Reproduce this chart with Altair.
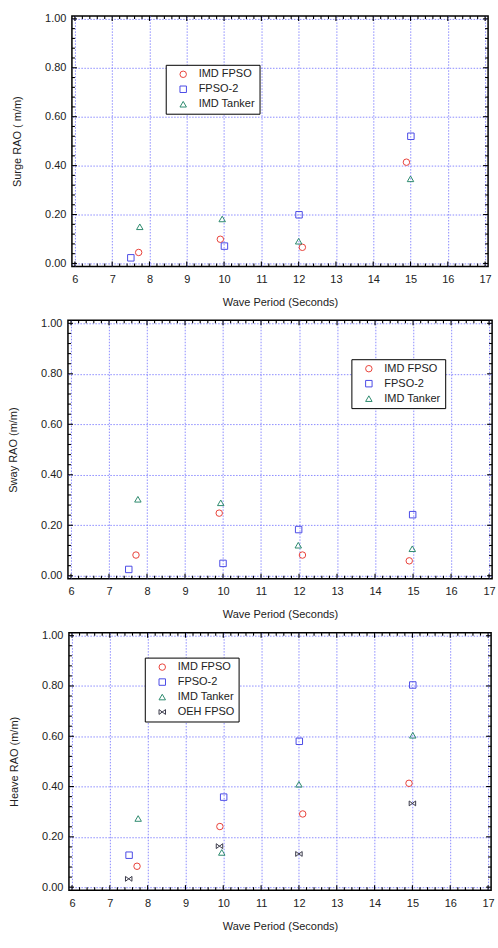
import altair as alt
import pandas as pd
import numpy as np

# ---------------- data ----------------
series_names = ["IMD FPSO", "FPSO-2", "IMD Tanker", "OEH FPSO"]
series_colors = ["#e8423a", "#4b4be6", "#2e8b6e", "#3a3a4a"]
series_shapes = ["circle", "square", "triangle-up", "M-1,-0.75L-1,0.75L1,-0.75L1,0.75Z"]

# Surge RAO
surge_imd_fpso_x = [7.71, 9.90, 12.10, 14.89]
surge_imd_fpso_y = [0.045, 0.099, 0.066, 0.414]
surge_fpso2_x = [7.50, 10.01, 12.01, 15.01]
surge_fpso2_y = [0.023, 0.071, 0.199, 0.520]
surge_tanker_x = [7.74, 9.95, 12.00, 15.00]
surge_tanker_y = [0.150, 0.182, 0.091, 0.346]

# Sway RAO
sway_imd_fpso_x = [7.71, 9.90, 12.09, 14.90]
sway_imd_fpso_y = [0.082, 0.248, 0.082, 0.059]
sway_fpso2_x = [7.52, 10.00, 11.99, 14.99]
sway_fpso2_y = [0.025, 0.049, 0.183, 0.242]
sway_tanker_x = [7.76, 9.94, 11.98, 14.98]
sway_tanker_y = [0.303, 0.289, 0.121, 0.107]

# Heave RAO
heave_imd_fpso_x = [7.72, 9.91, 12.10, 14.91]
heave_imd_fpso_y = [0.083, 0.241, 0.291, 0.413]
heave_fpso2_x = [7.51, 10.01, 12.01, 15.01]
heave_fpso2_y = [0.127, 0.358, 0.580, 0.804]
heave_tanker_x = [7.75, 9.96, 12.00, 15.01]
heave_tanker_y = [0.273, 0.138, 0.409, 0.604]
heave_oeh_x = [7.50, 9.90, 12.00, 15.00]
heave_oeh_y = [0.033, 0.163, 0.132, 0.333]

x_major = list(range(6, 18))
y_major = [0.0, 0.2, 0.4, 0.6, 0.8, 1.0]
x_minor = [round(6 + 0.2 * i, 2) for i in range(56) if i % 5 != 0]
y_minor = [round(0.04 * i, 2) for i in range(26) if i % 5 != 0]


def frame(pairs):
    rows = []
    for name, xs, ys in pairs:
        for a, b in zip(xs, ys):
            rows.append({"series": name, "x": a, "y": b})
    return pd.DataFrame(rows)


def panel(df, names, ytitle, width, height, lx, ly, ytitle_pad):
    cols = [series_colors[series_names.index(n)] for n in names]
    shps = [series_shapes[series_names.index(n)] for n in names]
    xs = alt.Scale(domain=[5.92, 17.08], nice=False, zero=False)
    ys = alt.Scale(domain=[-0.012, 1.012], nice=False, zero=False)
    leg = dict(orient="none", legendX=lx, legendY=ly, title=None,
               strokeColor="black", fillColor="white", padding=4,
               symbolOffset=8, labelOffset=10, rowPadding=3,
               labelFontSize=11, symbolSize=42, symbolStrokeWidth=1,
               labelFont="Liberation Sans", labelColor="#222")
    pts = alt.Chart(df).mark_point(filled=False, size=42, strokeWidth=1, opacity=1).encode(
        x=alt.X("x:Q", scale=xs, title="Wave Period (Seconds)",
                axis=alt.Axis(orient="bottom", values=x_major, format="d", grid=True,
                              ticks=False, tickSize=0, domain=False, labelPadding=7,
                              titlePadding=12, labelFlush=False)),
        y=alt.Y("y:Q", scale=ys, title=ytitle,
                axis=alt.Axis(orient="left", values=y_major, format=".2f", grid=True,
                              ticks=False, tickSize=0, domain=False, labelPadding=6,
                              titlePadding=ytitle_pad, labelFlush=False)),
        color=alt.Color("series:N", scale=alt.Scale(domain=names, range=cols),
                        legend=alt.Legend(**leg)),
        shape=alt.Shape("series:N", scale=alt.Scale(domain=names, range=shps),
                        legend=alt.Legend(**leg)),
    )

    def xticks(vals, y0, y1):
        return alt.Chart(pd.DataFrame({"x": vals})).mark_rule(
            color="black", strokeWidth=1.1).encode(
            x=alt.X("x:Q", scale=xs, axis=None),
            y=alt.value(y0), y2=alt.value(y1))

    def yticks(vals, x0, x1):
        return alt.Chart(pd.DataFrame({"y": vals})).mark_rule(
            color="black", strokeWidth=1.1).encode(
            y=alt.Y("y:Q", scale=ys, axis=None),
            x=alt.value(x0), x2=alt.value(x1))

    layers = [
        pts,
        xticks(x_major, height, height - 5),
        xticks(x_minor, height, height - 3),
        xticks(x_major, 0, 5),
        xticks(x_minor, 0, 3),
        yticks(y_major, 0, 5),
        yticks(y_minor, 0, 3),
        yticks(y_major, width, width - 5),
        yticks(y_minor, width, width - 3),
    ]
    return alt.layer(*layers).properties(width=width, height=height).resolve_axis(
        x="independent", y="independent")


surge_df = frame([("IMD FPSO", surge_imd_fpso_x, surge_imd_fpso_y),
                  ("FPSO-2", surge_fpso2_x, surge_fpso2_y),
                  ("IMD Tanker", surge_tanker_x, surge_tanker_y)])
sway_df = frame([("IMD FPSO", sway_imd_fpso_x, sway_imd_fpso_y),
                 ("FPSO-2", sway_fpso2_x, sway_fpso2_y),
                 ("IMD Tanker", sway_tanker_x, sway_tanker_y)])
heave_df = frame([("IMD FPSO", heave_imd_fpso_x, heave_imd_fpso_y),
                  ("FPSO-2", heave_fpso2_x, heave_fpso2_y),
                  ("IMD Tanker", heave_tanker_x, heave_tanker_y),
                  ("OEH FPSO", heave_oeh_x, heave_oeh_y)])

p1 = panel(surge_df, series_names[:3], "Surge RAO ( m/m)", 417, 251, 94, 49, 22)
p2 = panel(sway_df, series_names[:3], "Sway RAO (m/m)", 425, 259, 284, 39, 22)
p3 = panel(heave_df, series_names, "Heave RAO (m/m)", 423, 258, 76, 25, 22)

chart = alt.vconcat(p1, p2, p3, spacing=8, center=True).resolve_scale(
    color="independent", shape="independent"
).properties(
    padding={"left": 6, "top": 11, "right": 2, "bottom": 2},
    background="white",
).configure_view(
    stroke="black", strokeWidth=1.5
).configure_axis(
    labelFont="Liberation Sans", labelFontSize=11, labelColor="#222",
    titleFont="Liberation Sans", titleFontSize=11, titleColor="#222",
    titleFontWeight="normal",
    gridColor="#6f6fff", gridDash=[1.5, 1.5], gridWidth=0.8, gridOpacity=1,
)

chart.save("out.html", embed_options={"renderer": "svg", "actions": False})
